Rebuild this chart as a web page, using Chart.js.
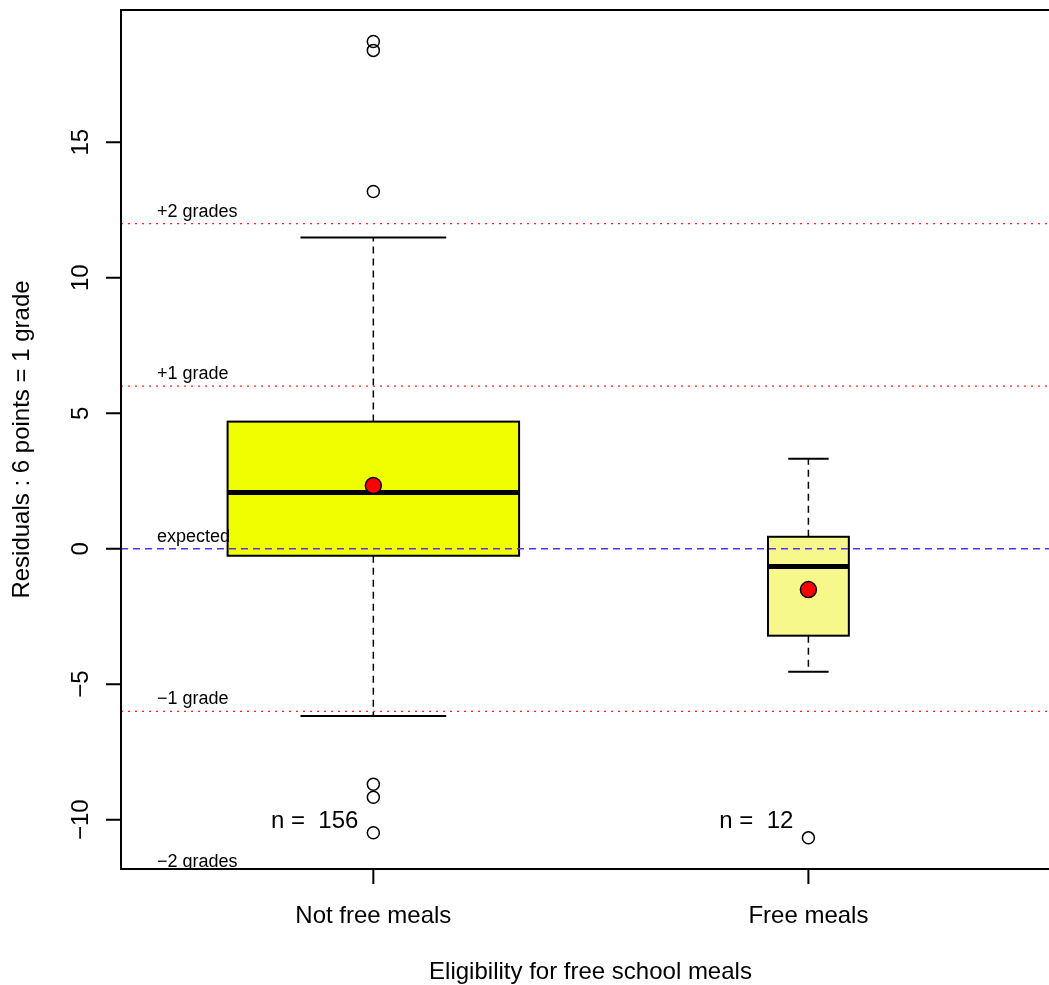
<!DOCTYPE html>
<html>
<head>
<meta charset="utf-8">
<title>Residuals by eligibility for free school meals</title>
<script src="https://cdn.jsdelivr.net/npm/chart.js@4.4.1/dist/chart.umd.min.js"></script>
<style>
    html, body { margin: 0; padding: 0; background: #fff; overflow: hidden; }
    canvas { display: block; }
</style>
</head>
<body>
<canvas id="resid-chart" width="1049" height="985"></canvas>
<script>
// Boxplot summary
const categories = ['Not free meals', 'Free meals'];
const counts = [156, 12];
const lowerWhisker = [-6.17, -4.54];
const lowerQuartile = [-0.26, -3.21];
const medians = [2.07, -0.66];
const upperQuartile = [4.69, 0.44];
const upperWhisker = [11.48, 3.32];
const means = [2.33, -1.51];
const outliers = [
    [18.72, 18.39, 13.18, -8.69, -9.17, -10.48],
    [-10.67]
];

// reference lines (6 points = 1 grade)
const gradeValues = [12, 6, 0, -6, -12];
const gradeLabels = ['+2 grades', '+1 grade', 'expected', '\u22121 grade', '\u22122 grades'];

const yTicks = [-10, -5, 0, 5, 10, 15];

const FONT = "'Liberation Sans', Arial, Helvetica, sans-serif";
const BOX_FILLS = ['#f0ff00', '#f6f88c'];
const MAX_HALF_WIDTH = 0.335;

const fmt = v => (v < 0 ? '\u2212' + Math.abs(v) : String(v));

function halfWidth(i) {
    const maxN = Math.max(...counts);
    return MAX_HALF_WIDTH * Math.sqrt(counts[i] / maxN);
}

const boxplotPlugin = {
    id: 'rBoxplot',
    beforeDatasetsDraw(chart) {
        const { ctx, chartArea: area, scales: { x, y } } = chart;
        ctx.save();
        ctx.beginPath();
        ctx.rect(area.left, area.top, area.right - area.left + 20, area.bottom - area.top);
        ctx.clip();

        categories.forEach((cat, i) => {
            const cx = x.getPixelForValue(i + 1);
            const left = x.getPixelForValue(i + 1 - halfWidth(i));
            const right = x.getPixelForValue(i + 1 + halfWidth(i));
            const capL = x.getPixelForValue(i + 1 - halfWidth(i) / 2);
            const capR = x.getPixelForValue(i + 1 + halfWidth(i) / 2);
            const yq1 = y.getPixelForValue(lowerQuartile[i]);
            const yq3 = y.getPixelForValue(upperQuartile[i]);

            // whiskers
            ctx.strokeStyle = '#000';
            ctx.lineWidth = 1.5;
            ctx.setLineDash([7, 5]);
            ctx.beginPath();
            ctx.moveTo(cx, yq3);
            ctx.lineTo(cx, y.getPixelForValue(upperWhisker[i]));
            ctx.moveTo(cx, yq1);
            ctx.lineTo(cx, y.getPixelForValue(lowerWhisker[i]));
            ctx.stroke();
            ctx.setLineDash([]);

            // staples
            ctx.lineWidth = 2;
            ctx.beginPath();
            [upperWhisker[i], lowerWhisker[i]].forEach(v => {
                const yy = y.getPixelForValue(v);
                ctx.moveTo(capL, yy);
                ctx.lineTo(capR, yy);
            });
            ctx.stroke();

            // box
            ctx.fillStyle = BOX_FILLS[i];
            ctx.fillRect(left, yq3, right - left, yq1 - yq3);
            ctx.strokeRect(left, yq3, right - left, yq1 - yq3);

            // median
            ctx.lineWidth = 5;
            ctx.beginPath();
            const ym = y.getPixelForValue(medians[i]);
            ctx.moveTo(left, ym);
            ctx.lineTo(right, ym);
            ctx.stroke();
        });

        // grade lines: red dotted, blue dashed for "expected"
        ctx.lineWidth = 1.2;
        ctx.strokeStyle = '#ff2020';
        ctx.setLineDash([2, 5]);
        gradeValues.filter(v => v !== 0).forEach(v => {
            const yy = y.getPixelForValue(v);
            ctx.beginPath();
            ctx.moveTo(area.left, yy);
            ctx.lineTo(area.right, yy);
            ctx.stroke();
        });
        ctx.strokeStyle = '#5a2ef0';
        ctx.lineWidth = 1.6;
        ctx.setLineDash([7, 5]);
        ctx.beginPath();
        ctx.moveTo(area.left, y.getPixelForValue(0));
        ctx.lineTo(area.right, y.getPixelForValue(0));
        ctx.stroke();
        ctx.setLineDash([]);

        // grade labels
        ctx.fillStyle = '#000';
        ctx.font = '18px ' + FONT;
        ctx.textAlign = 'left';
        ctx.textBaseline = 'alphabetic';
        gradeValues.forEach((v, k) => {
            ctx.fillText(gradeLabels[k], area.left + 36, y.getPixelForValue(v) - 7);
        });

        // group sizes
        ctx.font = '24px ' + FONT;
        ctx.textAlign = 'right';
        counts.forEach((n, i) => {
            ctx.fillText('n =  ' + n, x.getPixelForValue(i + 1) - 15, y.getPixelForValue(-10) + 8);
        });
        ctx.restore();
    },
    afterDraw(chart) {
        const { ctx, chartArea: area, scales: { x, y } } = chart;
        ctx.save();
        ctx.strokeStyle = '#000';
        ctx.fillStyle = '#000';
        ctx.lineWidth = 2;

        // plot frame (right edge falls off the canvas)
        ctx.strokeRect(area.left, area.top, area.right - area.left + 11, area.bottom - area.top);

        // y axis
        ctx.beginPath();
        yTicks.forEach(v => {
            const yy = y.getPixelForValue(v);
            ctx.moveTo(area.left, yy);
            ctx.lineTo(area.left - 15, yy);
        });
        ctx.stroke();
        ctx.font = '24px ' + FONT;
        ctx.textAlign = 'center';
        ctx.textBaseline = 'alphabetic';
        yTicks.forEach(v => {
            ctx.save();
            ctx.translate(88, y.getPixelForValue(v));
            ctx.rotate(-Math.PI / 2);
            ctx.fillText(fmt(v), 0, 0);
            ctx.restore();
        });

        // x axis
        ctx.beginPath();
        categories.forEach((c, i) => {
            const xx = x.getPixelForValue(i + 1);
            ctx.moveTo(xx, area.bottom);
            ctx.lineTo(xx, area.bottom + 15);
        });
        ctx.stroke();
        categories.forEach((c, i) => {
            ctx.fillText(c, x.getPixelForValue(i + 1), 923);
        });

        // titles
        ctx.fillText('Eligibility for free school meals', (area.left + area.right + 11) / 2, 979);
        ctx.save();
        ctx.translate(29, (area.top + area.bottom) / 2);
        ctx.rotate(-Math.PI / 2);
        ctx.fillText('Residuals : 6 points = 1 grade', 0, 0);
        ctx.restore();
        ctx.restore();
    }
};

const outlierPoints = outliers.flatMap((vals, i) => vals.map(v => ({ x: i + 1, y: v })));
const meanPoints = means.map((v, i) => ({ x: i + 1, y: v }));

new Chart(document.getElementById('resid-chart'), {
    type: 'scatter',
    data: {
        datasets: [
            {
                label: 'Outliers',
                data: outlierPoints,
                pointStyle: 'circle',
                pointRadius: 6,
                pointBorderWidth: 1.5,
                pointBorderColor: '#000',
                pointBackgroundColor: 'rgba(0,0,0,0)'
            },
            {
                label: 'Mean',
                data: meanPoints,
                pointStyle: 'circle',
                pointRadius: 8,
                pointBorderWidth: 1.5,
                pointBorderColor: '#000',
                pointBackgroundColor: '#ff0000'
            }
        ]
    },
    options: {
        responsive: false,
        devicePixelRatio: 1,
        animation: false,
        layout: { autoPadding: false, padding: { left: 121, top: 10, right: 0, bottom: 116 } },
        scales: {
            x: { type: 'linear', min: 0.42, max: 2.553, display: false },
            y: { type: 'linear', min: -11.82, max: 19.88, display: false }
        },
        plugins: {
            legend: { display: false },
            tooltip: { enabled: false }
        }
    },
    plugins: [boxplotPlugin]
});
</script>
</body>
</html>
